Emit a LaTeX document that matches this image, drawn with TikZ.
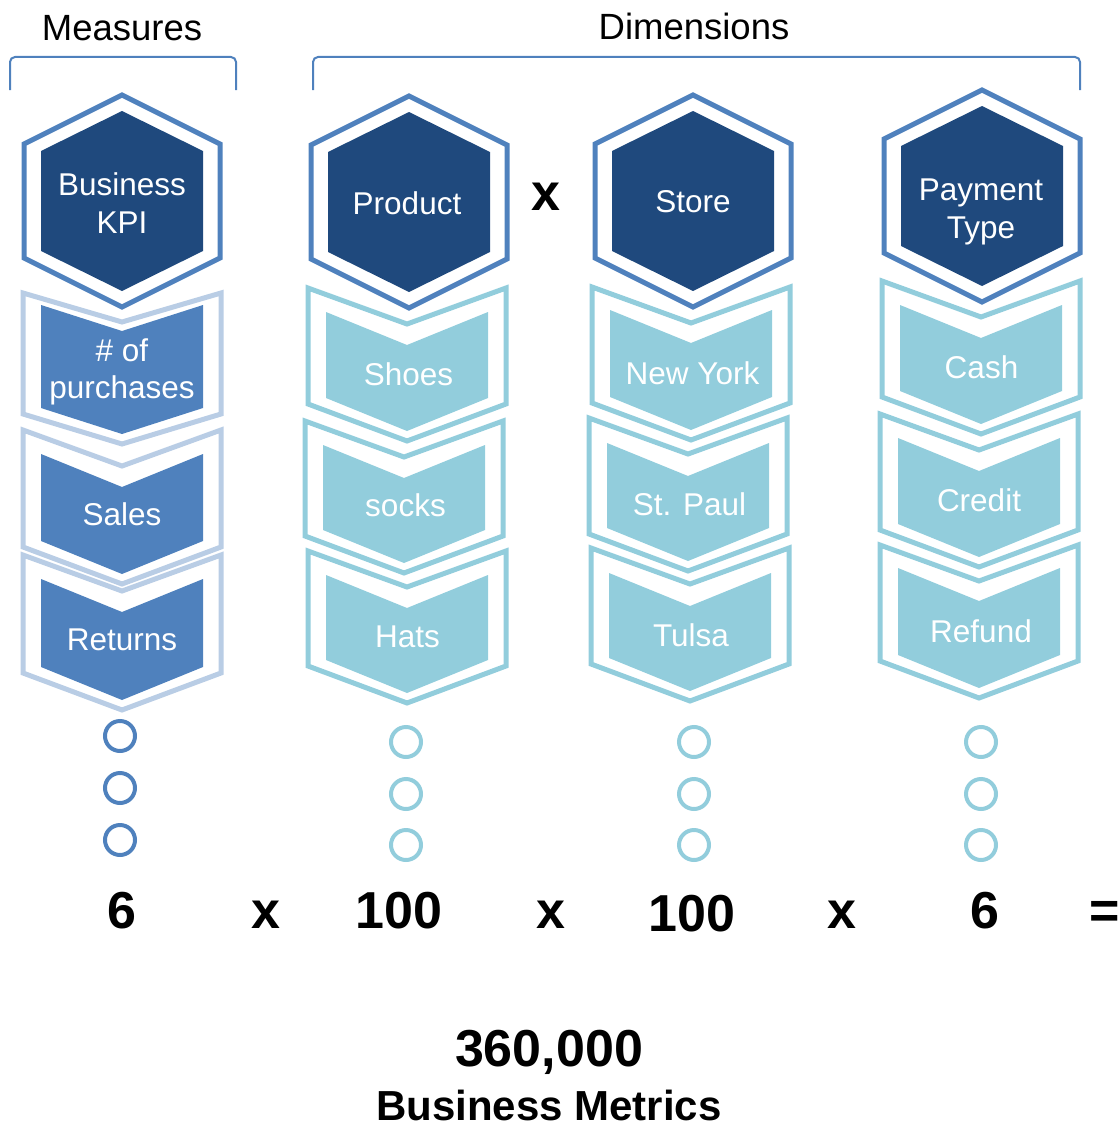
\documentclass[tikz,border=0pt]{standalone}
\usepackage{fontspec}
\setmainfont{Liberation Sans}
\definecolor{cHexDark}{HTML}{1F497D}
\definecolor{cMid}{HTML}{4F81BD}
\definecolor{cLight}{HTML}{B9CDE5}
\definecolor{cAqua}{HTML}{92CDDC}
\newcommand{\hexcell}[2]{%
  \begin{scope}[shift={(#1,#2)}]
    \draw[hexline] (0,-106) -- (98,-57) -- (98,57) -- (0,106) -- (-98,57) -- (-98,-57) -- cycle;
    \fill[hexfill] (0,-90) -- (81,-50) -- (81,50) -- (0,90) -- (-81,50) -- (-81,-50) -- cycle;
  \end{scope}}
\newcommand{\chevcell}[6]{%
  \begin{scope}[shift={(#1,#2)}]
    \draw[#6line] (-99,-#5) -- (0,{#4+3-#5}) -- (99,-#5) -- (99,{#3+6}) -- (0,{#3+10+#4}) -- (-99,{#3+6}) -- cycle;
    \fill[#6fill] (-81,0) -- (0,#4) -- (81,0) -- (81,#3) -- (0,{#3+#4}) -- (-81,#3) -- cycle;
  \end{scope}}
\begin{document}
\begin{tikzpicture}[x=1pt,y=-1pt,
  hexline/.style={draw=cMid, line width=5pt},
  hexfill/.style={fill=cHexDark},
  measline/.style={draw=cLight, line width=5pt},
  measfill/.style={fill=cMid},
  dimline/.style={draw=cAqua, line width=5pt},
  dimfill/.style={fill=cAqua},
  celltext/.style={text=white, font=\fontsize{31.5}{37.5}\selectfont, align=center, inner sep=0pt},
  head/.style={font=\fontsize{36.5}{40}\selectfont, anchor=base, inner sep=0pt},
  big/.style={font=\bfseries\fontsize{52}{56}\selectfont, anchor=base, inner sep=0pt},
  dotm/.style={circle, draw=cMid, line width=4pt, minimum size=30pt, inner sep=0pt},
  dotd/.style={circle, draw=cAqua, line width=4pt, minimum size=30pt, inner sep=0pt},
  bracket/.style={draw=cMid, line width=2pt, rounded corners=5pt}]
\useasboundingbox (0,0) rectangle (1117,1124);

% headers and brackets
\node[head] (measures) at (122,41) {Measures};
\node[head] (dimensions) at (694,40) {Dimensions};
\draw[bracket] (10,90) -- (10,57) -- (236,57) -- (236,90);
\draw[bracket] (313,90) -- (313,57) -- (1080,57) -- (1080,90);

% hexagons
\hexcell{122}{201}
\hexcell{409}{202}
\hexcell{693}{201}
\hexcell{982}{196}
\node[celltext] (kpi) at (122,203) {Business\\KPI};
\node[celltext] (product) at (407,203) {Product};
\node[celltext] (store) at (693,201.5) {Store};
\node[celltext] (payment) at (981,212) {Payment\\Type};
\node[big] (xtop) at (546,210) {x};

% measures chevrons
\chevcell{122}{305}{103}{26}{12}{meas}
\chevcell{122}{454}{87}{33}{24}{meas}
\chevcell{122}{579}{88}{33}{24}{meas}
\node[celltext] (purch) at (122,372) {\# of\\purchases};
\node[celltext] (sales) at (122,514.5) {Sales};
\node[celltext] (returns) at (122,640) {Returns};

% product chevrons
\chevcell{407}{312}{86}{33}{24}{dim}
\chevcell{404}{445}{85}{33}{24}{dim}
\chevcell{407}{575}{85}{33}{24}{dim}
\node[celltext] (shoes) at (408.5,374) {Shoes};
\node[celltext] (socks) at (405.5,505.5) {socks};
\node[celltext] (hats) at (407.5,637) {Hats};

% store chevrons
\chevcell{691}{310}{87}{33}{23}{dim}
\chevcell{688}{443}{85}{33}{25}{dim}
\chevcell{690}{573}{85}{33}{25}{dim}
\node[celltext] (newyork) at (692.5,373.5) {New York};
\node[celltext] (stpaul) at (689.5,504.5) {St. Paul};
\node[celltext] (tulsa) at (691,635) {Tulsa};

% payment chevrons
\chevcell{981}{305}{86}{33}{24}{dim}
\chevcell{979}{438}{86}{33}{24}{dim}
\chevcell{979}{568}{87}{33}{23}{dim}
\node[celltext] (cash) at (981.5,367.5) {Cash};
\node[celltext] (credit) at (979,500) {Credit};
\node[celltext] (refund) at (981,631) {Refund};

% dots
\node[dotm] (m1) at (120,736) {};
\node[dotm] (m2) at (120,788) {};
\node[dotm] (m3) at (120,840) {};
\foreach \cx/\nm in {406/p,694/s,981/t}{
  \node[dotd] (\nm1) at (\cx,742) {};
  \node[dotd] (\nm2) at (\cx,794) {};
  \node[dotd] (\nm3) at (\cx,845) {};
}

% numbers
\node[big] (n1) at (122,928) {6};
\node[big] (x1) at (266,928) {x};
\node[big] (n2) at (399,928) {100};
\node[big] (x2) at (551,928) {x};
\node[big] (n3) at (692,931) {100};
\node[big] (x3) at (842,928) {x};
\node[big] (n4) at (985,928) {6};
\node[big] (eq) at (1105,928) {=};

\node[big] (total) at (549,1066) {360,000};
\node[big, font=\bfseries\fontsize{42}{46}\selectfont] (metrics) at (549,1120) {Business Metrics};
\end{tikzpicture}
\end{document}
